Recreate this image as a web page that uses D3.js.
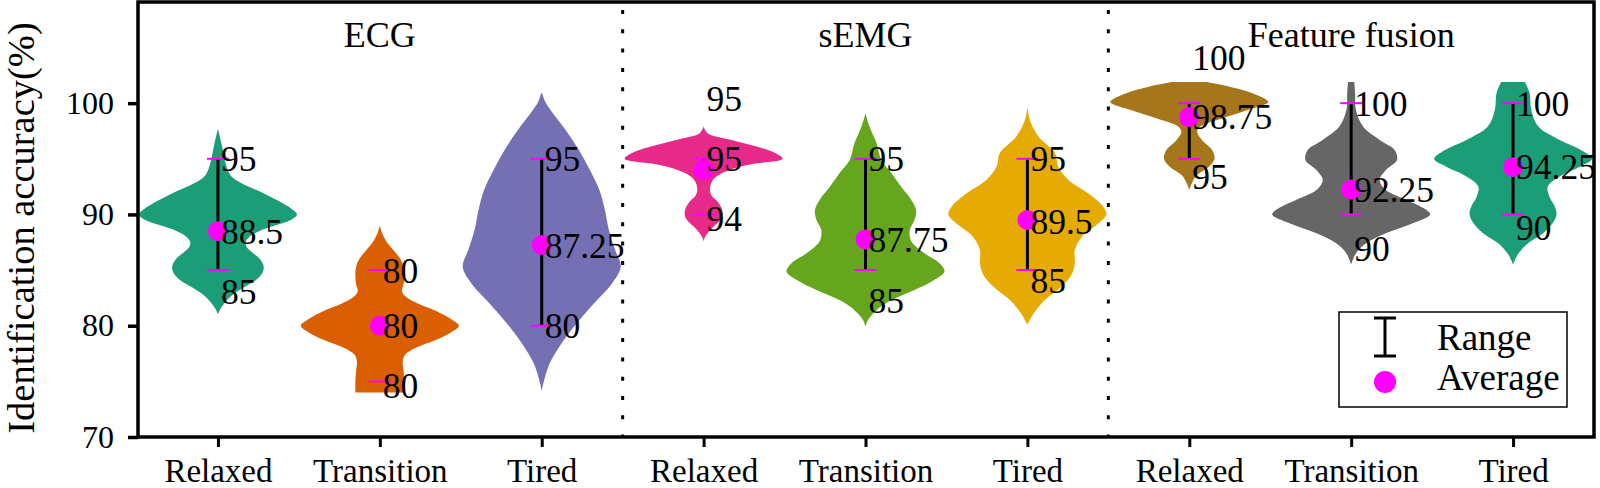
<!DOCTYPE html>
<html>
<head>
<meta charset="utf-8">
<script src="https://cdn.jsdelivr.net/npm/d3@7/dist/d3.min.js"></script>
<style>
  body { margin: 0; background: #fff; }
  svg, svg text { font-family: "Liberation Serif", "Times New Roman", Times, serif !important; fill: #000; }
</style>
</head>
<body>
<svg id="chart" width="1600" height="488"></svg>
<script>
// categories and groups
const categories = ["Relaxed", "Transition", "Tired", "Relaxed", "Transition", "Tired", "Relaxed", "Transition", "Tired"]
const groups = ["ECG", "sEMG", "Feature fusion"]
const yTicks = [70, 80, 90, 100]

// range / average values
const averages = [88.5, 80, 87.25, 94, 87.75, 89.5, 98.75, 92.25, 94.25]
const minValues = [85, 80, 80, 94, 85, 85, 95, 90, 90]
const maxValues = [95, 80, 95, 95, 95, 95, 100, 100, 100]
const capLow = [85, 75, 80, 90, 85, 85, 95, 90, 90]
const capHigh = [95, 85, 95, 95, 95, 95, 100, 100, 100]

// annotation texts (top, middle, bottom) and the value where each sits
const labelTexts = [["95", "88.5", "85"], ["80", "80", "80"], ["95", "87.25", "80"],
                    ["95", "95", "94"], ["95", "87.75", "85"], ["95", "89.5", "85"],
                    ["100", "98.75", "95"], ["100", "92.25", "90"], ["100", "94.25", "90"]]
const labelAt = [[95, 88.5, 83.1], [85, 80, 74.6], [95, 87.2, 80],
                 [100.4, 95, 89.6], [95, 87.7, 82.3], [95, 89.4, 84.1],
                 [104.1, 98.8, 93.4], [100, 92.2, 86.9], [100, 94.3, 88.8]]

// violin outlines: [value, relative half width]
const ecgRelaxed = [[97.7,0],[96.5,0.04],[95.5,0.07],[94.5,0.1],[93.5,0.16],[92.8,0.3],[92,0.55],[91.2,0.77],[90.5,0.93],[90,1],[89.5,0.92],[89,0.72],[88.5,0.52],[88,0.4],[87.5,0.35],[87,0.37],[86.5,0.45],[86,0.53],[85.3,0.58],[84.6,0.55],[84,0.46],[83.5,0.34],[83,0.23],[82.5,0.14],[82,0.08],[81.5,0.03],[81,0]]
const ecgTransition = [[89,0],[88.3,0.03],[87.5,0.09],[86.8,0.17],[86,0.26],[85.3,0.3],[84.5,0.31],[83.7,0.3],[83.1,0.28],[82.6,0.33],[82,0.48],[81.3,0.72],[80.6,0.9],[80,1],[79.4,0.9],[78.7,0.7],[78,0.45],[77.4,0.32],[76.8,0.29],[76,0.3],[75,0.31],[74,0.31]]
const ecgTired = [[101,0],[100.2,0.04],[99.4,0.11],[97.6,0.3],[95.8,0.47],[94,0.61],[92.2,0.73],[90.4,0.8],[88.6,0.85],[86.8,0.93],[85.3,1],[83.8,0.89],[82,0.66],[80.2,0.44],[78.4,0.25],[76.6,0.1],[74.8,0.02],[74.1,0]]
const semgRelaxed = [[97.9,0],[97.3,0.05],[96.7,0.35],[96.2,0.62],[95.6,0.88],[95,1],[94.5,0.6],[94,0.33],[93.5,0.18],[93,0.11],[92.3,0.08],[91.7,0.1],[91.2,0.17],[90.5,0.23],[90,0.24],[89.5,0.21],[89,0.14],[88.5,0.07],[88,0.02],[87.6,0]]
const semgTransition = [[99.1,0],[97.9,0.05],[96.4,0.14],[94.9,0.2],[93.7,0.33],[92.5,0.45],[91.3,0.58],[90.4,0.64],[89.5,0.62],[88.6,0.56],[87.6,0.58],[86.5,0.75],[85.6,0.94],[84.9,1],[84.1,0.87],[83.2,0.62],[82.3,0.33],[81.4,0.14],[80.5,0.03],[79.9,0]]
const semgTired = [[99.7,0],[98.5,0.03],[97,0.14],[95.5,0.35],[94.3,0.39],[93.1,0.52],[91.9,0.77],[90.7,0.96],[90,1],[89.2,0.9],[88,0.69],[86.8,0.6],[85.6,0.6],[84.6,0.56],[83.5,0.43],[82.3,0.22],[81.1,0.08],[80.1,0]]
const fusionRelaxed = [[101.9,0.22],[101.5,0.5],[100.9,0.8],[100.1,1],[99.4,0.75],[98.6,0.4],[97.9,0.14],[97.4,0.1],[96.7,0.16],[95.8,0.29],[95,0.32],[94.3,0.25],[93.4,0.08],[92.2,0]]
const fusionTransition = [[101.9,0.04],[100.9,0.05],[99.4,0.06],[97.9,0.15],[96.7,0.36],[95.8,0.55],[94.9,0.58],[94,0.44],[93.1,0.36],[92.2,0.44],[91.3,0.7],[90.5,0.93],[90,1],[89.2,0.78],[88.3,0.44],[87.4,0.19],[86.5,0.06],[85.5,0]]
const fusionTired = [[101.9,0.15],[100.9,0.21],[99.4,0.23],[97.9,0.32],[96.7,0.59],[95.8,0.86],[95,1],[94.3,0.85],[93.4,0.59],[92.5,0.44],[91.6,0.46],[90.7,0.53],[90,0.55],[89.2,0.5],[88.3,0.38],[87.3,0.17],[86.4,0.06],[85.5,0]]

const profiles = [ecgRelaxed, ecgTransition, ecgTired, semgRelaxed, semgTransition, semgTired, fusionRelaxed, fusionTransition, fusionTired]

const FONT = '"Liberation Serif", "Times New Roman", Times, serif'

function drawChart () {

	const left = 137, right = 1594, top = 2, bottom = 437

	const svg = d3.select("#chart")

	const x = d3.scalePoint()
		.domain(d3.range(categories.length))
		.range([left, right])
		.padding(0.5)

	const y = d3.scaleLinear()
		.domain([70, 109])
		.range([bottom, top + 1])

	const w = d3.scaleLinear().domain([0, 1]).range([0, 79])

	const color = i => d3.schemeDark2[i % 8]

	svg.append("clipPath").attr("id", "plot-clip")
		.append("rect")
		.attr("x", left).attr("y", top)
		.attr("width", right - left).attr("height", bottom - top)

	// group separators
	const seps = [2.5, 5.5]
	svg.selectAll(".sep")
		.data(seps)
		.enter()
		.append("line")
		.attr("x1", d => (x(Math.floor(d)) + x(Math.ceil(d))) / 2)
		.attr("x2", d => (x(Math.floor(d)) + x(Math.ceil(d))) / 2)
		.attr("y1", top + 8)
		.attr("y2", bottom)
		.attr("stroke", "#000")
		.attr("stroke-width", 3)
		.attr("stroke-dasharray", "4 15.3")

	// violins
	const plot = svg.append("g").attr("clip-path", "url(#plot-clip)")
	profiles.forEach(function (prof, i) {
		const cx = x(i)
		const area = d3.area()
			.y(d => y(d[0]))
			.x0(d => cx - w(d[1]))
			.x1(d => cx + w(d[1]))
			.curve(d3.curveCatmullRom)
		plot.append("path")
			.attr("d", area(prof))
			.attr("fill", color(i))
	})

	// range bars
	const marks = svg.selectAll(".mark")
		.data(d3.range(categories.length))
		.enter()
		.append("g")

	marks.append("line")
		.attr("x1", i => x(i)).attr("x2", i => x(i))
		.attr("y1", i => y(maxValues[i])).attr("y2", i => y(minValues[i]))
		.attr("stroke", "#000").attr("stroke-width", 3)

	marks.selectAll(".cap")
		.data(i => [[i, capLow[i]], [i, capHigh[i]]])
		.enter()
		.append("line")
		.attr("x1", d => x(d[0]) - 11).attr("x2", d => x(d[0]) + 11)
		.attr("y1", d => y(d[1])).attr("y2", d => y(d[1]))
		.attr("stroke", "#ff00ff").attr("stroke-width", 2)

	marks.append("circle")
		.attr("cx", i => x(i))
		.attr("cy", i => y(averages[i]))
		.attr("r", 10)
		.attr("fill", "#ff00ff")

	marks.selectAll(".lbl")
		.data(i => [0, 1, 2].map(k => [i, labelTexts[i][k], labelAt[i][k]]))
		.enter()
		.append("text")
		.attr("x", d => x(d[0]) + 3)
		.attr("y", d => y(d[2]))
		.attr("dy", "0.35em")
		.style("font-family", FONT)
		.style("font-size", "35.5px")
		.text(d => d[1])

	// group titles
	svg.selectAll(".title")
		.data(groups)
		.enter()
		.append("text")
		.attr("x", (d, k) => x(k * 3 + 1))
		.attr("y", 47)
		.attr("text-anchor", "middle")
		.style("font-family", FONT)
		.style("font-size", "36px")
		.text(d => d)

	// axes
	const xaxis = d3.axisBottom(x)
		.tickSize(10)
		.tickFormat(i => categories[i])

	const gx = svg.append("g")
		.attr("transform", "translate(0," + bottom + ")")
		.call(xaxis)
		.attr("font-family", FONT)
	gx.select(".domain").remove()
	gx.selectAll("line").attr("stroke-width", 3)
	gx.selectAll("text")
		.attr("y", 45).attr("dy", 0)
		.style("font-family", FONT)
		.style("font-size", "33px")

	const yaxis = d3.axisLeft(y)
		.tickValues(yTicks)
		.tickSize(10)
		.tickPadding(14)

	const gy = svg.append("g")
		.attr("transform", "translate(" + (left + 1) + ",0)")
		.call(yaxis)
		.attr("font-family", FONT)
	gy.select(".domain").remove()
	gy.selectAll("line").attr("stroke-width", 3.5)
	gy.selectAll("text")
		.style("font-family", FONT)
		.style("font-size", "32px")

	svg.append("text")
		.attr("transform", "translate(34,228) rotate(-90)")
		.attr("text-anchor", "middle")
		.style("font-family", FONT)
		.style("font-size", "38.5px")
		.text("Identification accuracy(%)")

	// frame
	svg.append("rect")
		.attr("x", left + 1).attr("y", top)
		.attr("width", right - left - 1).attr("height", bottom - top)
		.attr("fill", "none")
		.attr("stroke", "#000")
		.attr("stroke-width", 3.5)

	// legend
	const lg = svg.append("g").attr("transform", "translate(1339,312)")
	lg.append("rect")
		.attr("width", 228).attr("height", 95)
		.attr("fill", "#fff").attr("stroke", "#000").attr("stroke-width", 1.5)
	lg.append("line").attr("x1", 46).attr("x2", 46).attr("y1", 6).attr("y2", 44)
		.attr("stroke", "#000").attr("stroke-width", 3)
	lg.selectAll(".lcap")
		.data([6, 44])
		.enter()
		.append("line")
		.attr("x1", 35).attr("x2", 57)
		.attr("y1", d => d).attr("y2", d => d)
		.attr("stroke", "#000").attr("stroke-width", 3)
	lg.append("circle").attr("cx", 46).attr("cy", 70).attr("r", 11).attr("fill", "#ff00ff")
	lg.append("text").attr("x", 98).attr("y", 38)
		.style("font-family", FONT).style("font-size", "37px").text("Range")
	lg.append("text").attr("x", 98).attr("y", 78)
		.style("font-family", FONT).style("font-size", "37px").text("Average")

}

drawChart()
</script>
</body>
</html>
